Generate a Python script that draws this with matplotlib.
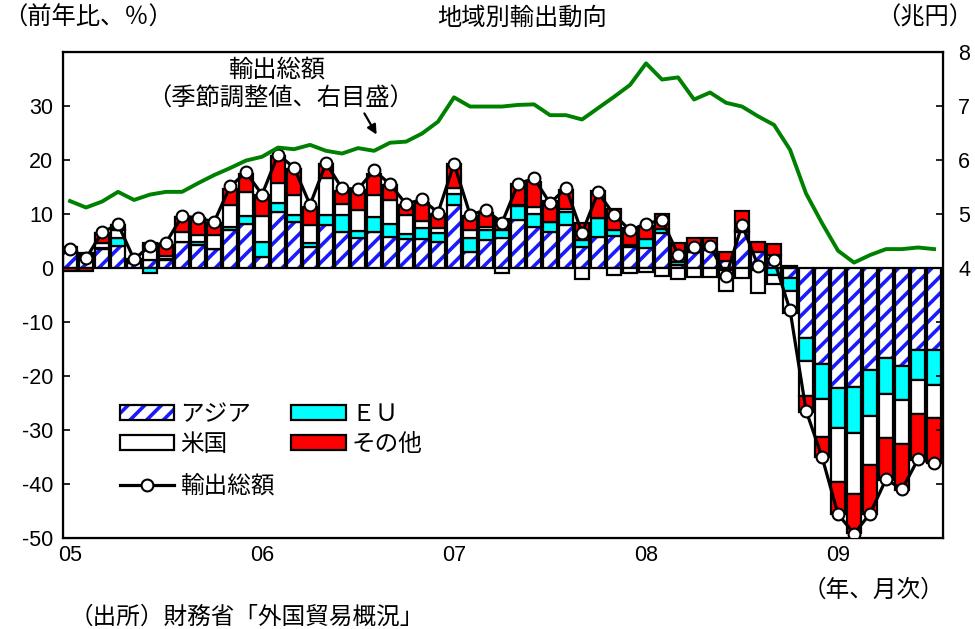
import numpy as np
import matplotlib
matplotlib.use("Agg")
import matplotlib.pyplot as plt
from matplotlib.patches import Patch
from matplotlib.lines import Line2D
from matplotlib import font_manager

# ---------------- data ----------------
# monthly, 2005-01 .. 2009-07 (55 months)
asia = [2.9, 2.3, 3.5, 4.0, 0.9, 1.5, 1.5, 4.9, 4.3, 3.6,
        7.0, 8.1, 2.1, 10.4, 8.6, 3.95, 8.0, 6.6, 5.5, 6.6,
        5.8, 5.4, 5.4, 4.9, 11.7, 2.9, 5.2, 5.5, 8.9, 7.65,
        6.6, 8.0, 3.95, 5.8, 6.0, 3.95, 3.7, 6.4, 0.6, 3.0,
        3.35, 1.3, 6.7, 3.0, 2.4, -1.9, -13.0, -17.8, -22.2, -22.0,
        -18.9, -16.6, -18.1, -15.2, -15.2]
eu = [0.3, 0.2, 0.2, 1.5, 0.2, -1.0, 0.2, 0.0, 0.5, 0.0,
      0.6, 1.5, 2.65, 1.7, 1.2, 0.6, 1.85, 3.2, 1.4, 2.9,
      2.3, 0.9, 2.0, 1.55, 2.0, 2.7, 1.85, 1.5, 2.5, 2.4,
      1.85, 2.3, 1.3, 3.4, 1.0, 0.3, 1.75, 0.8, 0.6, 0.0,
      0.0, -0.4, 0.2, -0.3, -1.3, -2.4, -4.3, -6.4, -7.5, -8.6,
      -8.5, -6.7, -6.4, -5.6, -6.4]
us = [0.6, 0.2, 0.9, 1.6, 0.4, 2.6, 0.6, 1.7, 1.35, 2.5,
      4.0, 4.5, 4.9, 3.7, 3.8, 3.5, 6.8, 2.0, 3.9, 4.0,
      4.5, 3.6, 1.35, 0.9, 1.1, 1.4, 0.6, -1.0, 0.3, 1.3,
      0.0, 0.6, -2.0, 0.0, -1.3, -1.0, -0.7, -1.5, -2.1, -1.6,
      -1.6, -3.9, -1.9, -4.4, -1.7, -4.0, -6.4, -7.1, -9.9, -11.2,
      -9.0, -8.2, -8.1, -6.3, -6.1]
other = [-0.5, -0.6, 1.8, 0.9, 0.1, 0.6, 2.0, 2.9, 3.1, 2.2,
         3.1, 3.4, 3.9, 4.9, 4.8, 3.3, 2.6, 2.5, 3.6, 4.0,
         2.8, 1.85, 3.3, 2.6, 4.4, 2.6, 2.6, 2.0, 3.9, 4.6,
         3.9, 3.5, 3.0, 5.0, 4.0, 3.2, 2.3, 2.8, 3.35, 2.5,
         2.15, 1.6, 3.7, 1.9, 2.0, 0.4, -2.9, -3.7, -5.9, -7.3,
         -9.1, -7.7, -8.5, -8.4, -8.5]
total = [3.6, 1.8, 6.6, 8.1, 1.6, 4.1, 4.7, 9.6, 9.3, 8.5,
         15.1, 17.7, 13.6, 21.0, 18.6, 11.7, 19.4, 14.75, 14.6, 18.1,
         15.5, 11.85, 12.7, 10.25, 19.3, 9.9, 10.7, 8.4, 15.6, 16.6,
         12.0, 14.8, 6.5, 14.0, 9.85, 7.0, 8.2, 8.9, 2.5, 3.95,
         4.1, -1.5, 8.0, 0.4, 1.5, -7.8, -26.4, -35.0, -45.6, -49.2,
         -45.5, -39.1, -41.0, -35.4, -36.1]
# exports, seasonally adjusted (trillion yen, right axis)
export_value = [5.24, 5.12, 5.23, 5.41, 5.26, 5.36, 5.41, 5.41, 5.57, 5.72,
                5.85, 5.99, 6.06, 6.23, 6.20, 6.28, 6.17, 6.12, 6.22, 6.17,
                6.32, 6.34, 6.49, 6.71, 7.16, 6.99, 6.99, 6.99, 7.02, 7.03,
                6.83, 6.83, 6.75, 6.96, 7.17, 7.39, 7.79, 7.49, 7.53, 7.12,
                7.25, 7.06, 6.99, 6.81, 6.65, 6.19, 5.38, 4.83, 4.32, 4.10,
                4.24, 4.35, 4.35, 4.38, 4.35]
year_labels = ["05", "06", "07", "08", "09"]
year_pos = [0, 12, 24, 36, 48]
left_ticks = [-50, -40, -30, -20, -10, 0, 10, 20, 30]
right_ticks = [0, 1, 2, 3, 4, 5, 6, 7, 8]
right_labels = ["", "", "", "", "4", "5", "6", "7", "8"]

series_names = ["アジア", "ＥＵ", "米国", "その他"]

# ---------------- style ----------------
names = {f.name for f in font_manager.fontManager.ttflist}
narrow = "Liberation Sans Narrow" if "Liberation Sans Narrow" in names else "Liberation Sans"
plt.rcParams["font.family"] = ["Noto Sans CJK JP", "DejaVu Sans"]
plt.rcParams["hatch.linewidth"] = 2.6
num_font = ["Liberation Sans", "DejaVu Sans"]

W, H = 975, 629
fig = plt.figure(figsize=(W / 100, H / 100), dpi=100)
L, R, T, B = 63, 943, 52, 538
ax = fig.add_axes([L / W, 1 - B / H, (R - L) / W, (B - T) / H])

x = np.arange(len(total))
comps = [np.array(asia), np.array(eu), np.array(us), np.array(other)]
pos_base = np.zeros(len(x))
neg_base = np.zeros(len(x))
bw = 0.86
blue = "#1a1aff"
cyan = "#00ffff"
red = "#ff0000"
elw = 1.6

for k, vals in enumerate(comps):
    bottoms = np.where(vals >= 0, pos_base, neg_base)
    if k == 0:
        ax.bar(x, vals, bw, bottom=bottoms, facecolor="white", edgecolor=blue,
               hatch="//", linewidth=0, zorder=2)
        ax.bar(x, vals, bw, bottom=bottoms, fill=False, edgecolor="black",
               linewidth=elw, zorder=3)
    else:
        fc = [None, cyan, "white", red][k]
        ax.bar(x, vals, bw, bottom=bottoms, facecolor=fc, edgecolor="black",
               linewidth=elw, zorder=3)
    pos_base = pos_base + np.where(vals >= 0, vals, 0)
    neg_base = neg_base + np.where(vals < 0, vals, 0)

ax.plot(x, total, color="black", lw=2.3, marker="o", ms=8.5, mfc="white",
        mec="black", mew=1.5, zorder=5)

ax.set_xlim(-0.44, 54.56)
ax.set_ylim(-50, 40)
ax.set_yticks(left_ticks)
ax.set_yticklabels([str(v) for v in left_ticks], fontfamily=num_font, fontsize=15.5)
ax.tick_params(axis="y", direction="in", length=5, width=1.2, pad=7)
ax.set_xticks(year_pos)
ax.set_xticklabels(year_labels, fontfamily=[narrow, "DejaVu Sans"], fontsize=15.5)
ax.tick_params(axis="x", length=0, pad=5)
for s in ax.spines.values():
    s.set_linewidth(1.6)

ax2 = ax.twinx()
ax2.set_ylim(-1, 8)
ax2.plot(x, export_value, color="#008000", lw=2.8, zorder=4)
ax2.set_yticks(right_ticks)
ax2.set_yticklabels(right_labels, fontfamily=num_font, fontsize=15.5)
ax2.tick_params(axis="y", direction="in", length=5, width=1.2, pad=11)
ax2.set_xlim(-0.44, 54.56)

# legends
h_asia = (Patch(facecolor="white", edgecolor=blue, hatch="//", linewidth=0),
          Patch(fill=False, edgecolor="black", linewidth=elw))
h_eu = Patch(facecolor=cyan, edgecolor="black", linewidth=elw)
h_us = Patch(facecolor="white", edgecolor="black", linewidth=elw)
h_ot = Patch(facecolor=red, edgecolor="black", linewidth=elw)
leg1 = ax2.legend([h_asia, h_us, h_eu, h_ot],
                  [series_names[0], series_names[2], series_names[1], series_names[3]],
                  ncol=2, loc="upper left",
                  bbox_to_anchor=((120 - L) / (R - L), (B - 403) / (B - T)),
                  frameon=False, fontsize=17, handlelength=2.3, handleheight=0.6,
                  handletextpad=0.25, columnspacing=1.7, labelspacing=0.3,
                  borderpad=0, borderaxespad=0)
ax2.add_artist(leg1)
h_tot = Line2D([], [], color="black", lw=2.3, marker="o", ms=8.5, mfc="white",
               mec="black", mew=1.5)
ax2.legend([h_tot], ["輸出総額"], loc="upper left",
           bbox_to_anchor=((120 - L) / (R - L), (B - 475) / (B - T)),
           frameon=False, fontsize=17, handlelength=2.3, handletextpad=0.25,
           borderpad=0, borderaxespad=0)

# annotation for export value
ax.text((277 - L) / (R - L), (B - 70) / (B - T), "輸出総額", transform=ax.transAxes,
        ha="center", va="center", fontsize=17.5)
ax.text((280 - L) / (R - L), (B - 99) / (B - T), "（季節調整値、右目盛）",
        transform=ax.transAxes, ha="center", va="center", fontsize=17.5)
ax.annotate("", xy=((378 - L) / (R - L), (B - 137) / (B - T)),
            xytext=((363 - L) / (R - L), (B - 111) / (B - T)),
            xycoords="axes fraction", textcoords="axes fraction",
            arrowprops=dict(arrowstyle="-|>", color="black", lw=1.6,
                            mutation_scale=14))

def ft(px, py, s, **kw):
    fig.text(px / W, 1 - py / H, s, va="center", **kw)

ft(3, 18, "（前年比、％）", ha="left", fontsize=17.5)
ft(522, 18, "地域別輸出動向", ha="center", fontsize=17.5)
ft(973, 18, "（兆円）", ha="right", fontsize=17.5)
ft(944, 590, "（年、月次）", ha="right", fontsize=17)
ft(70, 617, "（出所）財務省「外国貿易概況」", ha="left", fontsize=17)

fig.savefig("out.png", dpi=100)
